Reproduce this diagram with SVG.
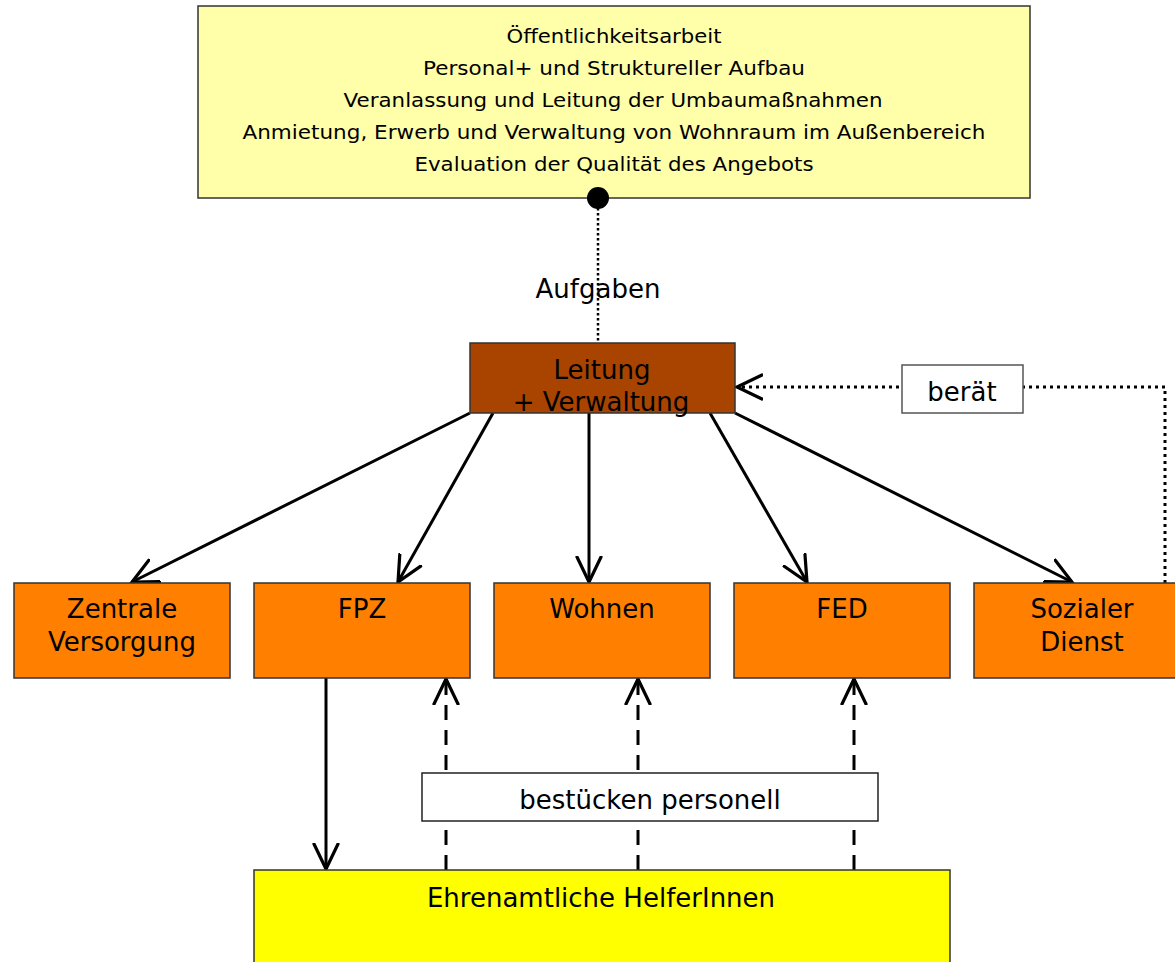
<svg xmlns="http://www.w3.org/2000/svg" width="1175" height="962" viewBox="0 0 1175 962">
  <style>
    .box { stroke: #333333; stroke-width: 1.5; }
    .lbl { font-family: "DejaVu Sans", Verdana, sans-serif; font-size: 26px; fill: #000; text-anchor: middle; }
    .small { font-family: "DejaVu Sans", Verdana, sans-serif; font-size: 19px; fill: #000; text-anchor: middle; }
    .solid { stroke: #000; stroke-width: 3; fill: none; }
    .dash { stroke: #000; stroke-width: 3; fill: none; stroke-dasharray: 15 10; }
    .dot2 { stroke: #000; stroke-width: 2.5; fill: none; stroke-dasharray: 2.5 2.5; }
    .dot3 { stroke: #000; stroke-width: 3; fill: none; stroke-dasharray: 3 4; }
    .head { stroke: #000; stroke-width: 3.2; fill: none; stroke-linecap: round; stroke-linejoin: miter; }
  </style>
  <defs>
    <marker id="open" viewBox="-26 -14 30 28" refX="0" refY="0" markerWidth="30" markerHeight="28" markerUnits="userSpaceOnUse" orient="auto">
      <path d="M -25 -12 L 0 0 L -25 12" class="head"/>
    </marker>
  </defs>

  <!-- task list -->
  <g id="aufgabenliste">
    <rect class="box" x="198" y="6" width="832" height="192" fill="#FFFFAA"/>
    <text class="small" x="614" y="43" textLength="215" lengthAdjust="spacingAndGlyphs">Öffentlichkeitsarbeit</text>
    <text class="small" x="614" y="75" textLength="382" lengthAdjust="spacingAndGlyphs">Personal+ und Struktureller Aufbau</text>
    <text class="small" x="613" y="107" textLength="539" lengthAdjust="spacingAndGlyphs">Veranlassung und Leitung der Umbaumaßnahmen</text>
    <text class="small" x="614" y="139" textLength="743" lengthAdjust="spacingAndGlyphs">Anmietung, Erwerb und Verwaltung von Wohnraum im Außenbereich</text>
    <text class="small" x="614" y="171" textLength="399" lengthAdjust="spacingAndGlyphs">Evaluation der Qualität des Angebots</text>
  </g>

  <!-- connectors -->
  <g id="connectors">
    <line class="dot2" x1="598" y1="198" x2="598" y2="343"/>
    <circle cx="598" cy="198" r="11" fill="#000"/>
    <text class="lbl" x="598" y="298">Aufgaben</text>

    <line class="solid" x1="470" y1="413" x2="132" y2="582" marker-end="url(#open)"/>
    <line class="solid" x1="493" y1="413" x2="398" y2="582" marker-end="url(#open)"/>
    <line class="solid" x1="589" y1="413" x2="589" y2="582" marker-end="url(#open)"/>
    <line class="solid" x1="710" y1="413" x2="807" y2="582" marker-end="url(#open)"/>
    <line class="solid" x1="735" y1="413" x2="1072" y2="582" marker-end="url(#open)"/>

    <polyline class="dot3" points="1165,583 1165,387 737,387" marker-end="url(#open)"/>

    <line class="solid" x1="326" y1="678" x2="326" y2="869" marker-end="url(#open)"/>
    <line class="dash" x1="446" y1="870" x2="446" y2="679" marker-end="url(#open)"/>
    <line class="dash" x1="638" y1="870" x2="638" y2="679" marker-end="url(#open)"/>
    <line class="dash" x1="854" y1="870" x2="854" y2="679" marker-end="url(#open)"/>
  </g>

  <g id="label-beraet">
    <rect x="902" y="365" width="121" height="48" fill="#fff" stroke="#555" stroke-width="1.5"/>
    <text class="lbl" x="962" y="401">berät</text>
  </g>

  <g id="label-bestuecken">
    <rect x="422" y="773" width="456" height="48" fill="#fff" stroke="#222" stroke-width="1.5"/>
    <text class="lbl" x="650" y="809">bestücken personell</text>
  </g>

  <g id="leitung">
    <rect class="box" x="470" y="343" width="265" height="70" fill="#A84300"/>
    <text class="lbl" x="602" y="379">Leitung</text>
    <text class="lbl" x="601" y="411">+ Verwaltung</text>
  </g>

  <g id="zentrale-versorgung">
    <rect class="box" x="14" y="583" width="216" height="95" fill="#FF7F00"/>
    <text class="lbl" x="122" y="618">Zentrale</text>
    <text class="lbl" x="122" y="651">Versorgung</text>
  </g>
  <g id="fpz">
    <rect class="box" x="254" y="583" width="216" height="95" fill="#FF7F00"/>
    <text class="lbl" x="362" y="618">FPZ</text>
  </g>
  <g id="wohnen">
    <rect class="box" x="494" y="583" width="216" height="95" fill="#FF7F00"/>
    <text class="lbl" x="602" y="618">Wohnen</text>
  </g>
  <g id="fed">
    <rect class="box" x="734" y="583" width="216" height="95" fill="#FF7F00"/>
    <text class="lbl" x="842" y="618">FED</text>
  </g>
  <g id="sozialer-dienst">
    <rect class="box" x="974" y="583" width="216" height="95" fill="#FF7F00"/>
    <text class="lbl" x="1082" y="618">Sozialer</text>
    <text class="lbl" x="1082" y="651">Dienst</text>
  </g>

  <g id="ehrenamtliche">
    <rect class="box" x="254" y="870" width="696" height="110" fill="#FFFF00"/>
    <text class="lbl" x="601" y="907">Ehrenamtliche HelferInnen</text>
  </g>
</svg>
